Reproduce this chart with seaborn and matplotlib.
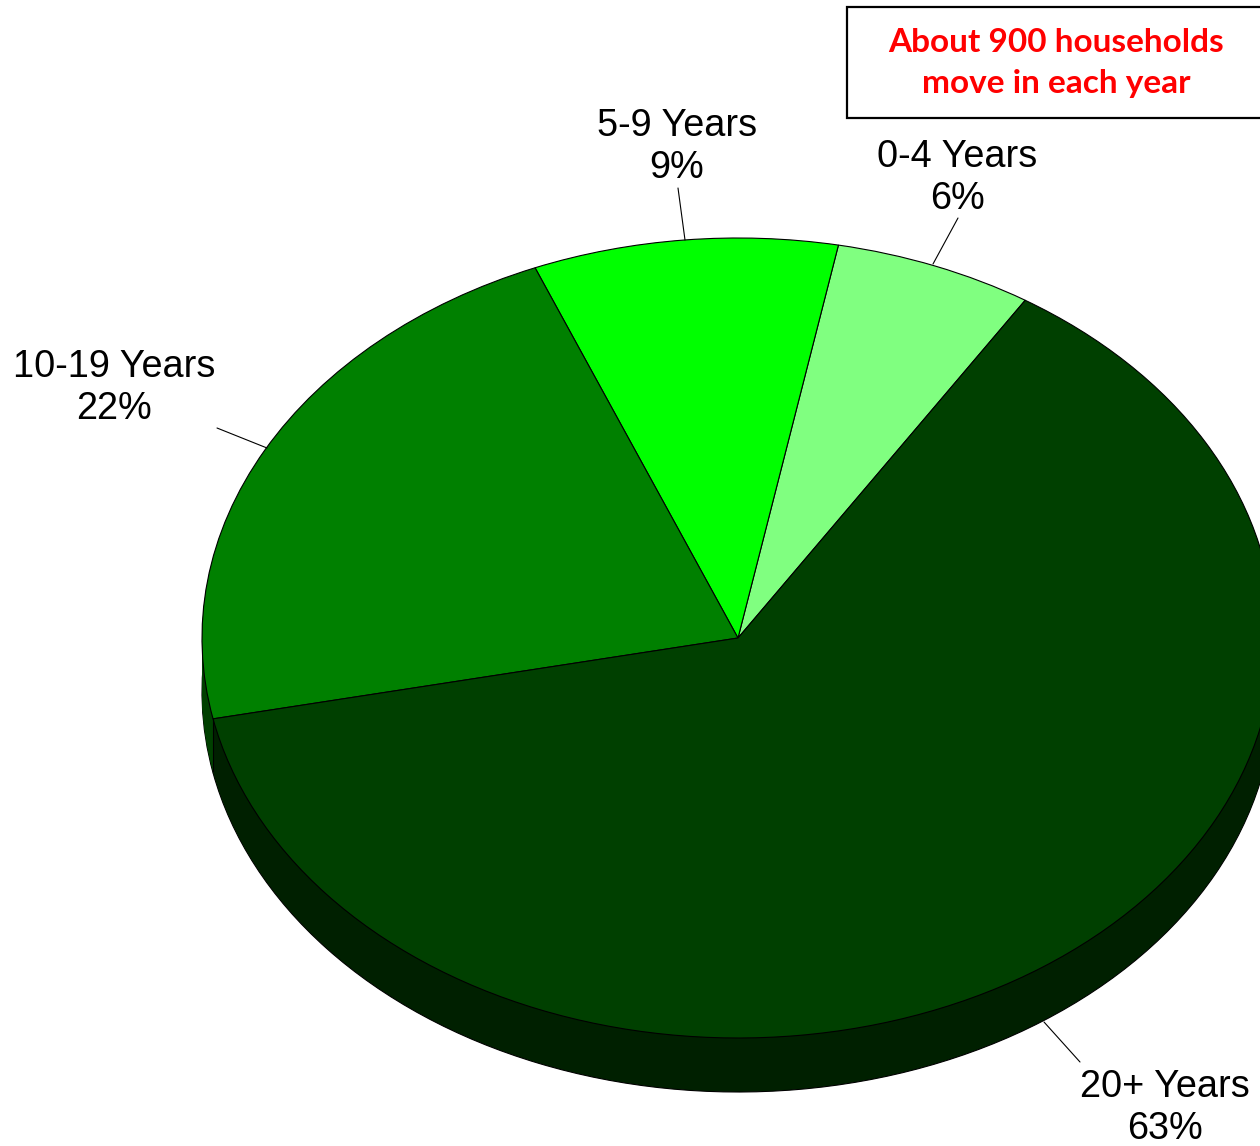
import numpy as np
import matplotlib
matplotlib.use("Agg")
import matplotlib.pyplot as plt
from matplotlib.lines import Line2D
from matplotlib.patches import Rectangle
import seaborn as sns

sns.set_theme(style="white")
plt.rcParams['font.family'] = ['Liberation Sans', 'DejaVu Sans']

categories = ["0-4 Years", "5-9 Years", "10-19 Years", "20+ Years"]
shares = [6.0, 9.18, 22.06, 62.76]
percent_labels = ["6%", "9%", "22%", "63%"]
top_colors = ["#80FF80", "#00FF00", "#008000", "#004000"]
side_colors = ["#408040", "#008000", "#004000", "#002000"]
note_lines = ["About 900 households", "move in each year"]

W, H = 1260, 1146
CX, CY, RX, RY, DEPTH = 738, 638, 536, 400, 54
START = 57.6

fig = plt.figure(figsize=(W / 100, H / 100), dpi=100, facecolor="white")
ax = fig.add_axes([0, 0, 1, 1])


def fx(x):
    return x / W


def fy(y):
    return 1 - y / H


# side wall: stacked copies of the pie, deepest first
for i, d in enumerate(np.arange(DEPTH, 0, -1)):
    ax.pie(shares, colors=side_colors, startangle=START, radius=1,
           center=(0, -d / RY), frame=True,
           wedgeprops=dict(linewidth=0.8 if i == 0 else 0,
                           edgecolor="black" if i == 0 else "none"))
# top face
ax.pie(shares, colors=top_colors, startangle=START, radius=1, center=(0, 0),
       frame=True, wedgeprops=dict(linewidth=0.8, edgecolor="black"))

ax.set_aspect("auto")
ax.set_xlim(-CX / RX, (W - CX) / RX)
ax.set_ylim(-(H - CY) / RY, CY / RY)
ax.axis("off")

# wall seam between the 10-19 and 20+ sides
fig.add_artist(Line2D([fx(213), fx(213)], [fy(718), fy(771)], color="black", lw=0.8))

# leader lines
leaders = [((933, 264), (958, 218)), ((685, 240), (678, 188)),
           ((267, 448), (217, 428)), ((1044, 1022), (1080, 1062))]
for (x0, y0), (x1, y1) in leaders:
    fig.add_artist(Line2D([fx(x0), fx(x1)], [fy(y0), fy(y1)], color="black", lw=0.8))

# data labels
label_pos = [(957, 178), (677, 147), (114, 388), (1165, 1108)]
for name, val, (x, y) in zip(categories, percent_labels, label_pos):
    fig.text(fx(x), fy(y), f"{name}\n{val}", ha="center", va="center",
             fontsize=27.3, color="black", linespacing=1.225,
             family=['Liberation Sans', 'DejaVu Sans'])

# note box, running off the right edge
fig.add_artist(Rectangle((fx(847), fy(118)), fx(430), 111 / H, transform=fig.transFigure,
                         facecolor="white", edgecolor="black", lw=1.6))
fig.text(fx(1056), fy(42), note_lines[0], ha="center", va="center", fontsize=24,
         fontweight="bold", color="#FF0000", family=['Lato', 'DejaVu Sans'])
fig.text(fx(1056), fy(84), note_lines[1], ha="center", va="center", fontsize=24,
         fontweight="bold", color="#FF0000", family=['Lato', 'DejaVu Sans'])

fig.savefig("out.png", dpi=100, facecolor="white")
